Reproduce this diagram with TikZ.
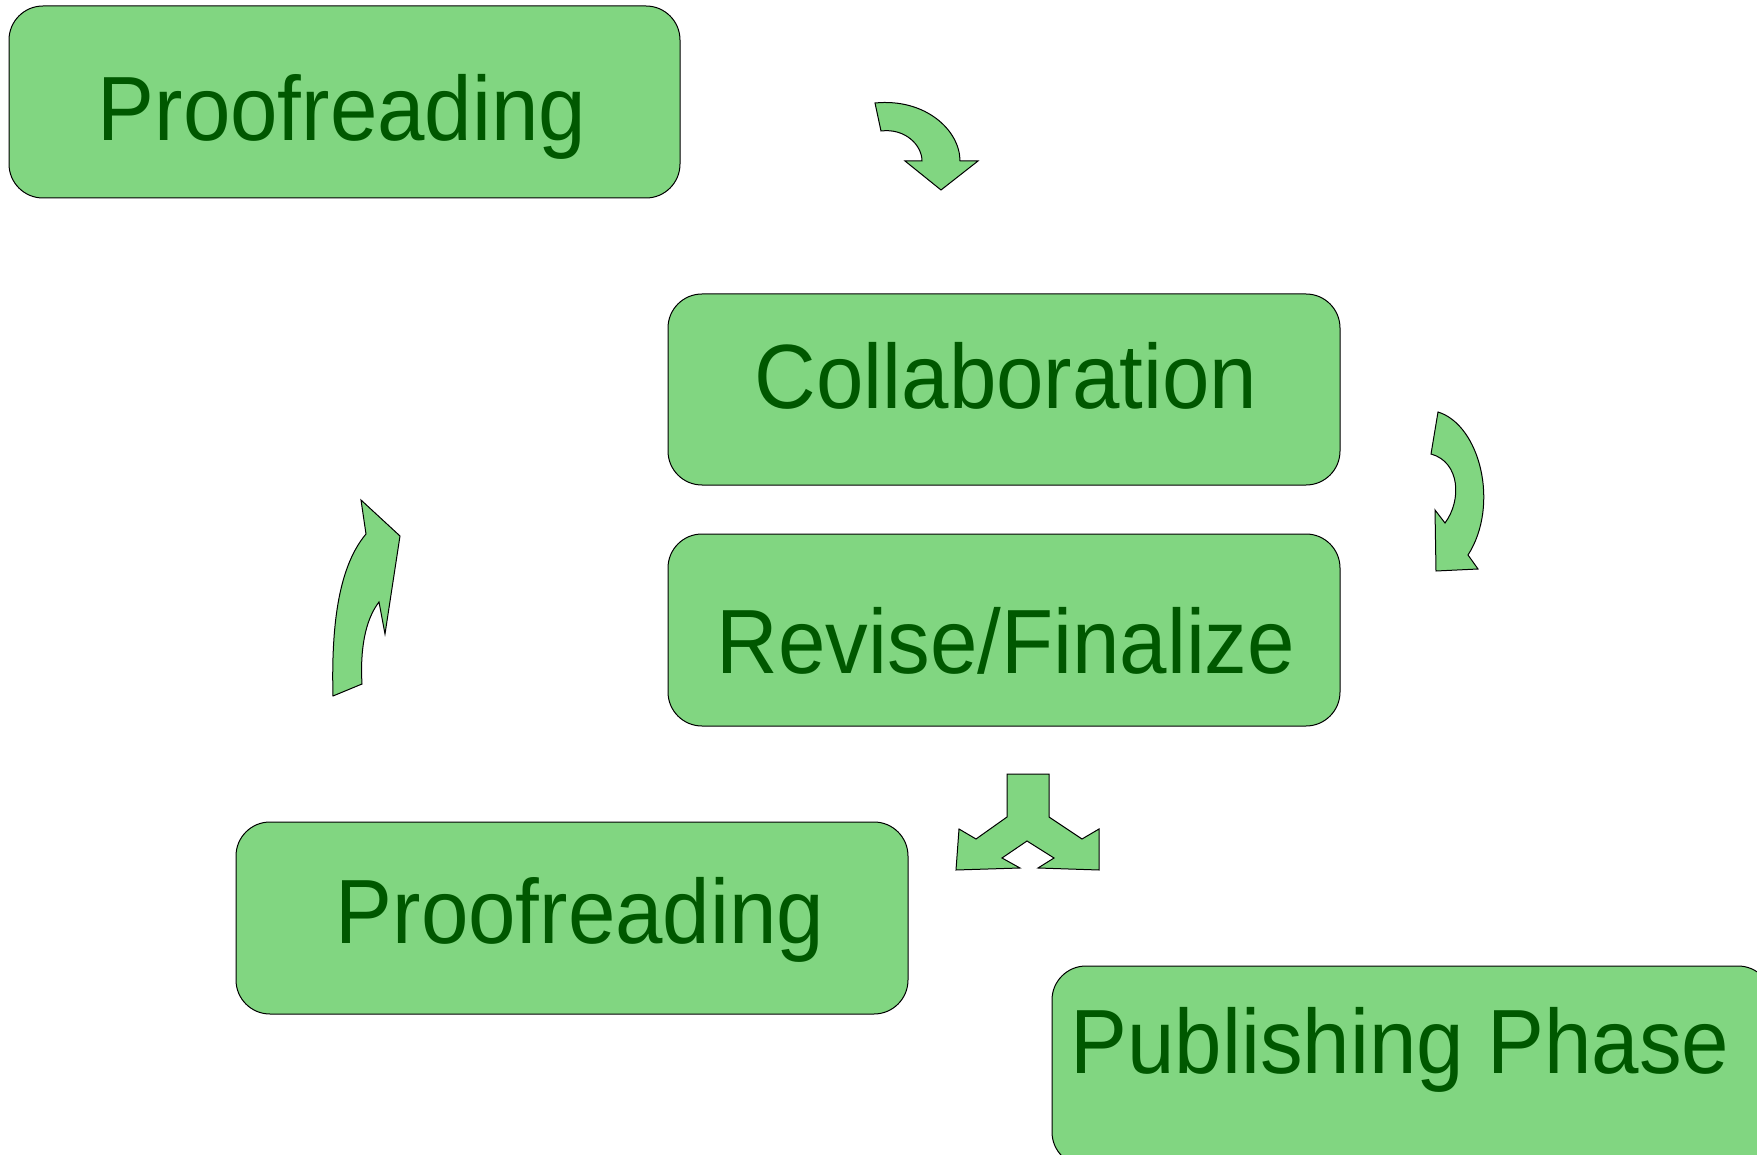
\documentclass[tikz,border=0pt]{standalone}
\usepackage{fontspec}
\usepackage{graphicx}
\setmainfont{Liberation Sans}
\definecolor{boxfill}{RGB}{129,214,129}
\definecolor{txtgreen}{RGB}{0,88,0}
\newcommand{\tallstage}[1]{\scalebox{1}[1.07]{#1}}
\begin{document}
\begin{tikzpicture}[x=1pt,y=-1pt,
  stagebox/.style={draw=black,fill=boxfill,line width=1pt,rounded corners=34pt,inner sep=0pt},
  stagetext/.style={anchor=base,text=txtgreen,inner sep=0pt,font=\fontsize{85.3}{90}\selectfont},
  bentarrow/.style={draw=black,fill=boxfill,line width=1pt,line join=miter}]
\useasboundingbox (0,0) rectangle (1757,1155);
\clip (0,0) rectangle (1757,1155);
\fill[white] (0,0) rectangle (1757,1155);
% boxes
\node[stagebox,minimum width=671pt,minimum height=192pt] (b1) at (344.5,102) {};
\node[stagebox,minimum width=672pt,minimum height=191pt] (b2) at (1004,389.5) {};
\node[stagebox,minimum width=672pt,minimum height=192pt] (b3) at (1004,630) {};
\node[stagebox,minimum width=672pt,minimum height=192pt] (b4) at (572,918) {};
\node[stagebox,minimum width=720pt,minimum height=200pt] (b5) at (1412,1066) {};
% texts
\node[stagetext] (t1) at (342,141) {\tallstage{Proofreading}};
\node[stagetext] (t2) at (1006,409) {\tallstage{Collaboration}};
\node[stagetext] (t3) at (1006,673) {\tallstage{Revise/Finalize}};
\node[stagetext] (t4) at (580,943) {\tallstage{Proofreading}};
\node[stagetext] (t5) at (1400,1073) {\tallstage{Publishing Phase}};
% arrow A (top)
\draw[bentarrow] (875,103) .. controls (925,98) and (960,130) .. (960,161)
  -- (978,161) -- (941,190) -- (905,161) -- (922,161)
  .. controls (922,145) and (905,128) .. (881,131) -- cycle;
% arrow B (right)
\draw[bentarrow] (1438,412) .. controls (1480,425) and (1500,505) .. (1468,555)
  -- (1478,569) -- (1436,571) -- (1435,510) -- (1445,523)
  .. controls (1462,500) and (1460,462) .. (1431,454) -- cycle;
% arrow C (left)
\draw[bentarrow] (333,696) .. controls (331,620) and (340,565) .. (366,534)
  -- (361,500) -- (400,536) -- (385,634) -- (379,602)
  .. controls (365,620) and (360,650) .. (362,684) -- cycle;
% arrow D (split)
\draw[bentarrow] (1007,774) -- (1049,774) -- (1049,817) -- (1082,839) -- (1099,829)
  -- (1099,870) -- (1038,868) -- (1054,858) -- (1027,841) -- (1002,858)
  -- (1020,868) -- (956,870) -- (959,829) -- (976,839) -- (1007,817) -- cycle;
\end{tikzpicture}
\end{document}
